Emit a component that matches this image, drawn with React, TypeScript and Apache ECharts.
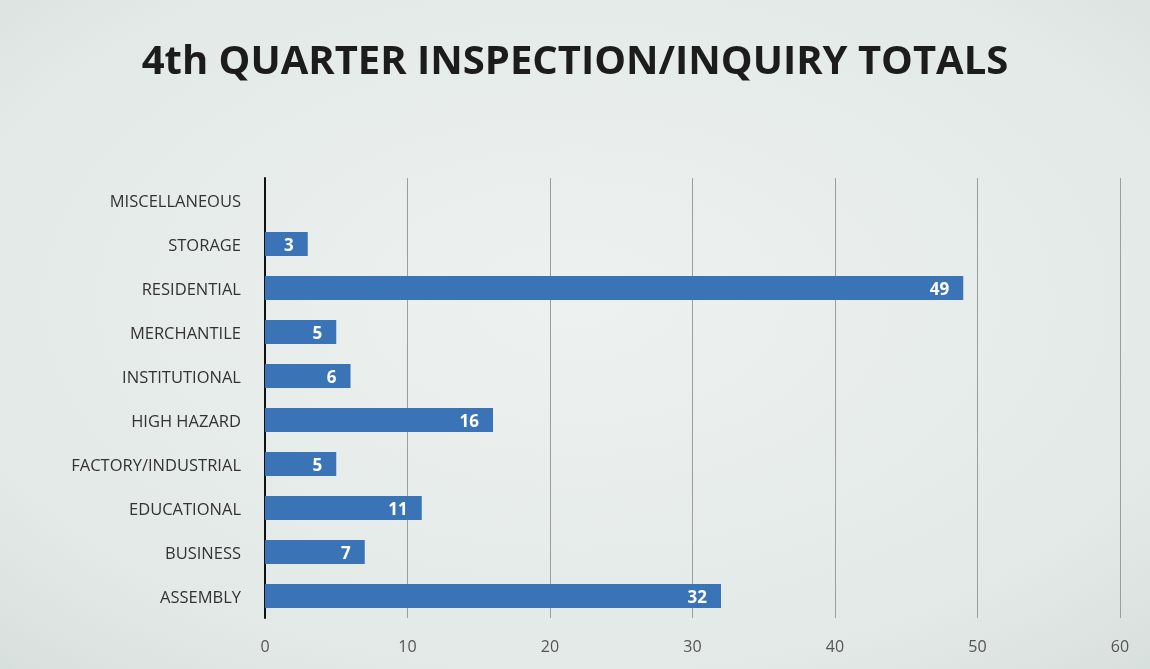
import React, { useEffect, useRef } from "react";
import * as echarts from "echarts";

const title = "4th QUARTER INSPECTION/INQUIRY TOTALS";
const categories = [
  "ASSEMBLY",
  "BUSINESS",
  "EDUCATIONAL",
  "FACTORY/INDUSTRIAL",
  "HIGH HAZARD",
  "INSTITUTIONAL",
  "MERCHANTILE",
  "RESIDENTIAL",
  "STORAGE",
  "MISCELLANEOUS",
];
const values = [32, 7, 11, 5, 16, 6, 5, 49, 3, 0];
const xMin = 0;
const xMax = 60;
const xInterval = 10;

export default function App() {
  const ref = useRef<HTMLDivElement>(null);
  useEffect(() => {
    const chart = echarts.init(ref.current!, null, { renderer: "svg" });
    chart.setOption({
      animation: false,
      backgroundColor: {
        type: "radial",
        x: 0.5,
        y: 0.45,
        r: 0.8,
        colorStops: [
          { offset: 0, color: "#edf2f0" },
          { offset: 0.7, color: "#e3e9e6" },
          { offset: 1, color: "#d4dcd9" },
        ],
      },
      title: {
        text: title,
        left: "center",
        top: 33,
        textStyle: {
          fontFamily: "Open Sans",
          fontWeight: "bold",
          fontSize: 40,
          color: "#1c1c1c",
        },
      },
      grid: { left: 265, right: 30, top: 178, height: 440, containLabel: false },
      xAxis: {
        type: "value",
        min: xMin,
        max: xMax,
        interval: xInterval,
        axisLine: { show: false },
        axisTick: { show: false },
        splitLine: { show: true, lineStyle: { color: "#9a9e9c", width: 1 } },
        axisLabel: {
          margin: 20,
          fontFamily: "Open Sans",
          fontSize: 16,
          color: "#555",
        },
      },
      yAxis: {
        type: "category",
        data: categories,
        axisLine: { show: true, lineStyle: { color: "#111", width: 2 } },
        axisTick: { show: false },
        axisLabel: {
          margin: 24,
          fontFamily: "Open Sans",
          fontSize: 16.5,
          color: "#333",
        },
      },
      series: [
        {
          type: "bar",
          data: values,
          barWidth: 24,
          itemStyle: { color: "#3a74b7" },
          label: {
            show: true,
            position: "insideRight",
            distance: 14,
            color: "#ffffff",
            fontFamily: "Open Sans",
            fontWeight: "bold",
            fontSize: 17,
            formatter: (p: any) => (p.value ? String(p.value) : ""),
          },
        },
      ],
    });
    return () => chart.dispose();
  }, []);
  return (
    <div
      ref={ref}
      style={{ position: "fixed", left: 0, top: 0, width: 1150, height: 669 }}
    />
  );
}
